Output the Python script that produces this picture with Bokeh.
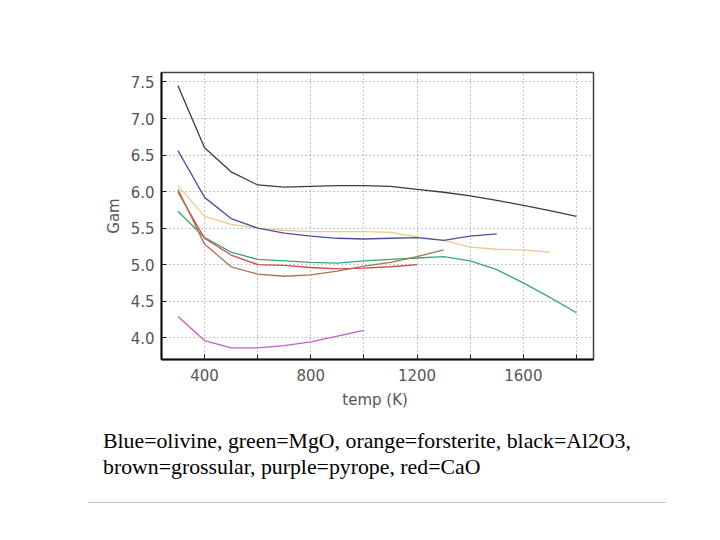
from bokeh.plotting import figure
from bokeh.models import FixedTicker, Range1d, Div, PrintfTickFormatter
from bokeh.layouts import column
from bokeh.embed import file_html
from bokeh.resources import INLINE

# Data
t_black = [300, 400, 500, 600, 700, 800, 900, 1000, 1100, 1200, 1300, 1400, 1500, 1600, 1700, 1800]
g_black = [7.45, 6.60, 6.27, 6.09, 6.06, 6.07, 6.08, 6.08, 6.07, 6.03, 5.99, 5.94, 5.88, 5.81, 5.74, 5.66]

t_blue = [300, 400, 500, 600, 700, 800, 900, 1000, 1100, 1200, 1300, 1400, 1500]
g_blue = [6.56, 5.92, 5.63, 5.50, 5.43, 5.39, 5.36, 5.35, 5.36, 5.37, 5.33, 5.39, 5.42]

t_orange = [300, 400, 500, 600, 700, 800, 900, 1000, 1100, 1200, 1300, 1400, 1500, 1600, 1700]
g_orange = [6.08, 5.66, 5.55, 5.50, 5.47, 5.45, 5.45, 5.45, 5.44, 5.38, 5.33, 5.24, 5.21, 5.20, 5.17]

t_green = [300, 400, 500, 600, 700, 800, 900, 1000, 1100, 1200, 1300, 1400, 1500, 1600, 1700, 1800]
g_green = [5.73, 5.37, 5.17, 5.07, 5.05, 5.03, 5.02, 5.05, 5.07, 5.09, 5.11, 5.05, 4.93, 4.75, 4.55, 4.34]

t_red = [300, 400, 500, 600, 700, 800, 900, 1000, 1100, 1200]
g_red = [5.99, 5.36, 5.13, 5.00, 4.99, 4.96, 4.94, 4.95, 4.97, 5.00]

t_brown = [300, 400, 500, 600, 700, 800, 900, 1000, 1100, 1200, 1300]
g_brown = [6.03, 5.28, 4.97, 4.87, 4.84, 4.86, 4.91, 4.98, 5.03, 5.11, 5.20]

t_purple = [300, 400, 500, 600, 700, 800, 900, 1000]
g_purple = [4.29, 3.96, 3.86, 3.86, 3.89, 3.94, 4.02, 4.10]

x_ticks = [400, 600, 800, 1000, 1200, 1400, 1600, 1800]
x_hidden = [600, 1000, 1400, 1800]
y_ticks = [4.0, 4.5, 5.0, 5.5, 6.0, 6.5, 7.0, 7.5]

caption = ("Blue=olivine, green=MgO, orange=forsterite, black=Al2O3,<br>"
           "brown=grossular, purple=pyrope, red=CaO")

p = figure(frame_width=432, frame_height=287, min_border_left=161, min_border_top=72,
           min_border_right=20, min_border_bottom=58,
           output_backend="svg", toolbar_location=None,
           x_range=Range1d(238, 1864), y_range=Range1d(3.70, 7.63))

series = [
    (t_green, g_green, "#3aa57c"),
    (t_red, g_red, "#d04a48"),
    (t_brown, g_brown, "#a8744e"),
    (t_orange, g_orange, "#f0c88c"),
    (t_blue, g_blue, "#4f4fa0"),
    (t_purple, g_purple, "#c45ec4"),
    (t_black, g_black, "#3c3c3c"),
]
for xs, ys, c in series:
    p.line(xs, ys, line_color=c, line_width=1.3)

p.xaxis.ticker = FixedTicker(ticks=x_ticks)
p.xaxis.major_label_overrides = {v: "" for v in x_hidden}
p.yaxis.ticker = FixedTicker(ticks=y_ticks)
p.yaxis.formatter = PrintfTickFormatter(format="%.1f")

for ax in (p.xaxis[0], p.yaxis[0]):
    ax.axis_line_color = "#111111"
    ax.axis_line_width = 2
    ax.major_tick_in = 5
    ax.major_tick_out = 0
    ax.major_tick_line_color = "#222222"
    ax.minor_tick_line_color = None
    ax.major_label_text_font = "DejaVu Sans"
    ax.major_label_text_font_size = "15px"
    ax.major_label_text_color = "#555555"
    ax.axis_label_text_font = "DejaVu Sans"
    ax.axis_label_text_font_size = "15px"
    ax.axis_label_text_font_style = "normal"
    ax.axis_label_text_color = "#555555"

p.xaxis.axis_label = "temp  (K)"
p.yaxis.axis_label = "Gam"
p.xaxis.major_label_standoff = 9
p.yaxis.major_label_standoff = 7
p.xaxis.axis_label_standoff = 7
p.yaxis.axis_label_standoff = 5

p.xgrid.ticker = FixedTicker(ticks=x_ticks)
p.ygrid.ticker = FixedTicker(ticks=y_ticks)
for g in (p.xgrid[0], p.ygrid[0]):
    g.grid_line_color = "#8a8a8a"
    g.grid_line_dash = "1 3"
    g.grid_line_width = 1

p.outline_line_color = "#444444"
p.outline_line_width = 1.5
p.background_fill_color = "white"
p.border_fill_color = "white"

div = Div(text=caption, width=578, margin=(11, 0, 0, 88),
          styles={"font-family": "'Liberation Serif', 'Times New Roman', serif",
                  "font-size": "21.8px", "line-height": "26px", "color": "#000",
                  "padding-left": "15px", "padding-bottom": "22px",
                  "border-bottom": "1px solid #c8c8c8"})

layout = column(p, div, spacing=0)
open("out.html", "w").write(file_html(layout, INLINE))
